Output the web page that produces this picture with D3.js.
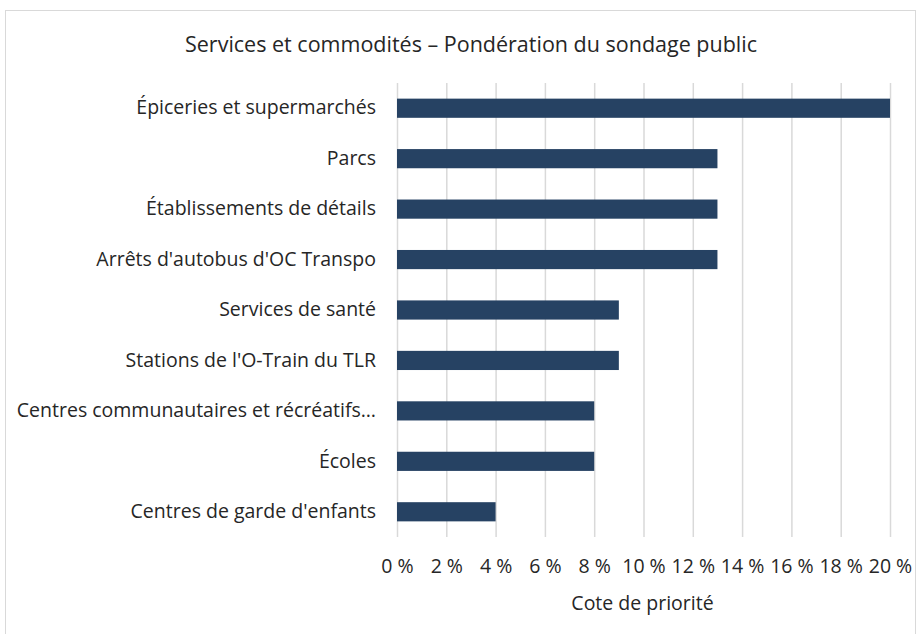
<!DOCTYPE html>
<html>
<head>
<meta charset="utf-8">
<script src="https://cdn.jsdelivr.net/npm/d3@7"></script>
<style>
  body { margin: 0; background: #fff; }
  svg text { font-family: "Open Sans", sans-serif; fill: #262626; }
</style>
</head>
<body>
<svg id="chart" width="921" height="634"></svg>
<script>
var categories = ["Épiceries et supermarchés", "Parcs", "Établissements de détails",
	"Arrêts d'autobus d'OC Transpo", "Services de santé", "Stations de l'O-Train du TLR",
	"Centres communautaires et récréatifs…", "Écoles", "Centres de garde d'enfants"];
var values = [20, 13, 13, 13, 9, 9, 8, 8, 4];
var tickValues = [0, 2, 4, 6, 8, 10, 12, 14, 16, 18, 20];
var title = "Services et commodités – Pondération du sondage public";
var xTitle = "Cote de priorité";

var svg = d3.select("#chart"),
	margin = {top: 83, right: 31, bottom: 97, left: 397},
	width = +svg.attr("width") - margin.left - margin.right,
	height = +svg.attr("height") - margin.top - margin.bottom;

// chart frame
svg.append("rect")
	.attr("x", 5.5).attr("y", 10.5)
	.attr("width", 910).attr("height", 640)
	.attr("fill", "none").attr("stroke", "#d9d9d9");

svg.append("text")
	.attr("x", 471).attr("y", 52)
	.attr("text-anchor", "middle")
	.style("font-size", "21.5px")
	.text(title);

var x = d3.scaleLinear().domain([0, 20]).range([0, width]);
var y = d3.scaleBand().domain(categories).range([0, height]).paddingInner(0.62).paddingOuter(0.31);

var g = svg.append("g")
	.attr("transform", "translate(" + margin.left + "," + margin.top + ")");

// gridlines
g.append("g")
	.attr("class", "grid")
	.call(d3.axisBottom(x).tickValues(tickValues).tickSize(height).tickFormat(""))
	.call(function(s){
		s.select(".domain").remove();
		s.selectAll("line").attr("stroke", "#d9d9d9").attr("stroke-width", 1.5);
	});

g.selectAll(".bar")
	.data(values)
  .enter().append("rect")
	.attr("class", "bar")
	.attr("x", 0)
	.attr("y", function(d, i) { return y(categories[i]); })
	.attr("height", y.bandwidth())
	.attr("width", function(d) { return x(d); })
	.attr("fill", "#264263");

// x axis labels
g.append("g")
	.attr("transform", "translate(0," + height + ")")
	.call(d3.axisBottom(x).tickValues(tickValues).tickSize(0).tickPadding(22)
		.tickFormat(function(d) { return d + " %"; }))
	.call(function(s){
		s.select(".domain").remove();
		s.selectAll("text").style("font-size", "19.5px").attr("fill", "#262626");
	});

// y axis labels
g.append("g")
	.call(d3.axisLeft(y).tickSize(0).tickPadding(21))
	.call(function(s){
		s.select(".domain").remove();
		s.selectAll("text").style("font-size", "19.5px").attr("fill", "#262626");
	});

svg.append("text")
	.attr("x", margin.left + width / 2 - 1).attr("y", 610)
	.attr("text-anchor", "middle")
	.style("font-size", "19.5px")
	.text(xTitle);
</script>
</body>
</html>
